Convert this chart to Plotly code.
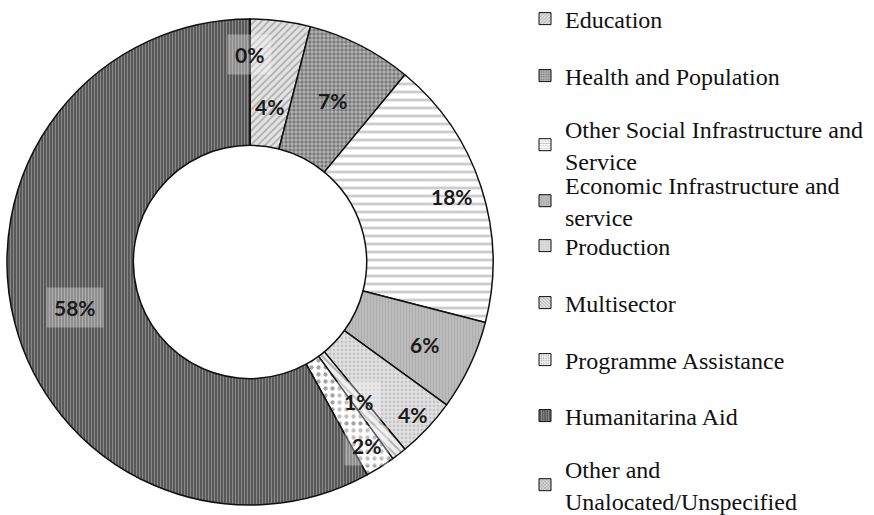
import math
import plotly.graph_objects as go

# Sector shares of aid (percent), listed clockwise from 12 o'clock
sectors = [
    "Education",
    "Health and Population",
    "Other Social Infrastructure and<br>Service",
    "Economic Infrastructure and<br>service",
    "Production",
    "Multisector",
    "Programme Assistance",
    "Humanitarina Aid",
    "Other and<br>Unalocated/Unspecified",
]
shares = [4, 7, 18, 6, 4, 1, 2, 58, 0]

# Greyscale fills with hatch patterns, one per sector
bg_colors = ["#e4e4e4", "#b8b8b8", "#ffffff", "#bdbdbd", "#e2e2e2",
             "#ececec", "#ffffff", "#595959", "#d8d8d8"]
fg_colors = ["#7a7a7a", "#3c3c3c", "#9a9a9a", "#a2a2a2", "#a8a8a8",
             "#6a6a6a", "#4a4a4a", "#c4c4c4", "#6a6a6a"]
shapes = ["/", ".", "-", "|", ".", "\\", ".", "|", "x"]
sizes = [5, 4, 8, 3, 4, 6, 7, 3, 5]
solidity = [0.35, 0.55, 0.35, 0.4, 0.4, 0.3, 0.3, 0.3, 0.4]

# Data-label styling: distance from centre (fraction of outer radius)
# and whether the label sits on a translucent box
label_radius = [0.646, 0.745, 0.872, 0.794, 0.918, 0.728, 0.893, 0.745, 0.852]
label_boxed = [False, False, False, False, False, True, True, True, True]

# Vertical centres (px from top) of each legend entry's first line
legend_rows_px = [19, 76, 133, 189, 246, 303, 360, 416, 473]

W, H = 874, 515
HOLE = 0.48
# Pie domain in pixels (left, right, top, bottom)
PX_L, PX_R, PX_T, PX_B = 7, 493, 19, 505

fig = go.Figure()

fig.add_trace(go.Pie(
    labels=[s.replace("<br>", " ") for s in sectors],
    values=shares,
    hole=HOLE,
    sort=False,
    direction="clockwise",
    rotation=0,
    showlegend=False,
    textinfo="none",
    marker=dict(
        colors=bg_colors,
        line=dict(color="#111111", width=1.5),
        pattern=dict(shape=shapes, fgcolor=fg_colors, bgcolor=bg_colors,
                     size=sizes, solidity=solidity, fillmode="overlay"),
    ),
    domain=dict(x=[PX_L / W, PX_R / W], y=[1 - PX_B / H, 1 - PX_T / H]),
    hoverinfo="label+percent",
))

# Percentage labels placed along each slice's mid-angle
cx, cy = (PX_L + PX_R) / 2, (PX_T + PX_B) / 2
R = min(PX_R - PX_L, PX_B - PX_T) / 2
total = sum(shares)
cum = 0
for i, v in enumerate(shares):
    theta = 2 * math.pi * (cum + v / 2) / total
    cum += v
    r = label_radius[i] * R
    px = cx + r * math.sin(theta)
    py = cy - r * math.cos(theta)
    fig.add_annotation(
        x=px / W, y=1 - py / H, xref="paper", yref="paper",
        text=f"{round(100 * v / total)}%", showarrow=False,
        font=dict(family="Lato", size=21, color="#1a1a1a", weight="bold"),
        bgcolor="rgba(255,255,255,0.32)" if label_boxed[i] else None,
        borderpad=7 if label_boxed[i] else 0,
        xanchor="center", yanchor="middle",
    )

# Legend entries: one legend box per sector so rows sit on an even grid
layout_legends = {}
for i, name in enumerate(sectors):
    key = "legend" if i == 0 else f"legend{i + 1}"
    fig.add_trace(go.Bar(
        x=[None], y=[None], name=name,
        marker=dict(color=bg_colors[i], line=dict(color="#111111", width=1),
                    pattern=dict(shape=shapes[i], fgcolor=fg_colors[i],
                                 bgcolor=bg_colors[i], size=3, solidity=0.4)),
        legend=key, showlegend=True, hoverinfo="skip",
    ))
    two_lines = "<br>" in name
    y_px = legend_rows_px[i] + (12 if two_lines else 0)
    layout_legends[key] = dict(
        x=525 / W, xanchor="left",
        y=1 - y_px / H, yanchor="middle",
        bgcolor="rgba(0,0,0,0)", borderwidth=0,
        font=dict(family="Liberation Serif", size=24, color="#111111"),
        itemclick=False, itemdoubleclick=False,
    )

fig.update_layout(
    width=W, height=H,
    margin=dict(l=0, r=0, t=0, b=0, autoexpand=False),
    paper_bgcolor="white",
    plot_bgcolor="white",
    xaxis=dict(visible=False),
    yaxis=dict(visible=False),
    **layout_legends,
)

fig.write_html("out.html")
